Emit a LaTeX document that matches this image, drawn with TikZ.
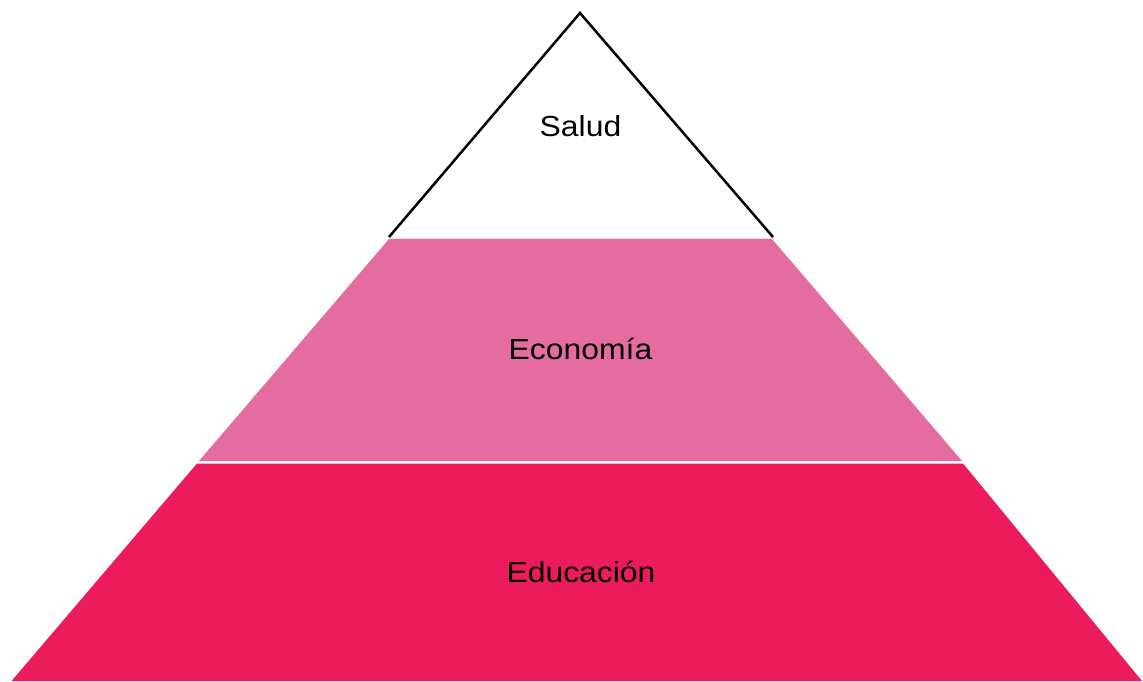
\documentclass[tikz,border=0pt]{standalone}
\usepackage{fontspec}
\setmainfont{Liberation Sans}[FakeStretch=1.1]
\definecolor{midpink}{RGB}{229,108,160}
\definecolor{deeppink}{RGB}{236,28,92}
\definecolor{seam}{RGB}{225,225,225}
\begin{document}
\begin{tikzpicture}[x=1pt,y=-1pt,
  label/.style={font=\fontsize{29}{34}\selectfont, text=black, anchor=base, inner sep=0pt}]
\useasboundingbox (0,0) rectangle (1143,681);
\fill[white] (0,0) rectangle (1143,681);
% bottom tier
\fill[deeppink] (197,463.5) -- (963,463.5) -- (1142,681) -- (11.5,681) -- cycle;
% middle tier
\fill[midpink] (389,239) -- (772,239) -- (962,461) -- (199,461) -- cycle;
% seam under top
\draw[seam, line width=1pt] (389,238) -- (773,238);
% top triangle
\draw[black, line width=2.5pt, line join=miter] (389,237) -- (580,13) -- (773,237);
% labels
\node[label] (salud) at (580.5,136.5) {Salud};
\node[label] (economia) at (580.5,359) {Economía};
\node[label] (educacion) at (581,582) {Educación};
\end{tikzpicture}
\end{document}
